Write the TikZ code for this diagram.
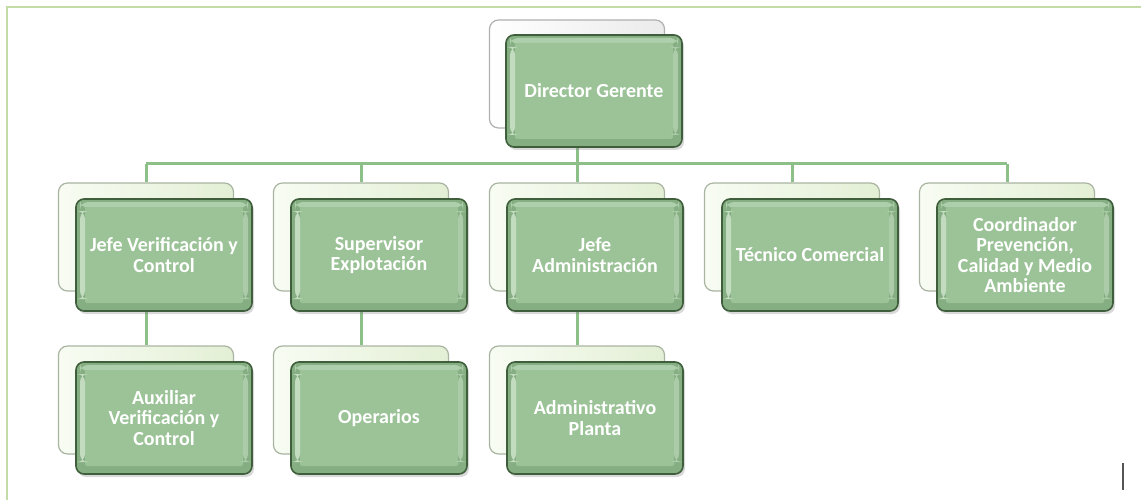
\documentclass[tikz,border=0pt]{standalone}
\usepackage{fontspec}
\setmainfont{Carlito}
\usetikzlibrary{shadows}
\definecolor{frameC}{HTML}{C3DBA5}
\definecolor{lineC}{HTML}{8DBF88}
\definecolor{backL}{HTML}{F8FCF3}
\definecolor{backR}{HTML}{E3EFD5}
\definecolor{backD}{HTML}{A9B5A2}
\definecolor{dirL}{HTML}{FFFFFF}
\definecolor{dirR}{HTML}{EBEBEB}
\definecolor{dirD}{HTML}{B0B0B0}
\definecolor{frontE}{HTML}{86AE83}
\definecolor{frontF}{HTML}{9BC397}
\definecolor{frontT}{HTML}{AECFAB}
\definecolor{frontH}{HTML}{D3E8D0}
\definecolor{frontD}{HTML}{3E5E3C}
\definecolor{cursorC}{HTML}{555555}
\pgfdeclarelayer{background}
\pgfsetlayers{background,main}
\tikzset{
  backbox/.style={rounded corners=9pt, minimum width=175pt, minimum height=108pt,
    draw=backD, line width=1.2pt, left color=backL, right color=backR, inner sep=0pt},
  dirback/.style={backbox, draw=dirD, left color=dirL, right color=dirR},
  frontbox/.style={rounded corners=8pt, minimum width=176pt, minimum height=112pt,
    draw=frontD, line width=1.6pt, fill=frontE,
    drop shadow={shadow xshift=2pt, shadow yshift=-3pt, opacity=0.3},
    text=white, font=\bfseries\fontsize{20}{20.5}\selectfont, align=center,
    inner sep=3pt,
    path picture={
      \fill[frontT] ([xshift=4pt,yshift=-3pt]path picture bounding box.north west)
        rectangle ([xshift=-4pt,yshift=-9pt]path picture bounding box.north east);
      \fill[frontF, rounded corners=2pt] ([xshift=9pt,yshift=-8pt]path picture bounding box.north west)
        rectangle ([xshift=-9pt,yshift=8pt]path picture bounding box.south east);
      \fill[frontH, opacity=0.8] ([xshift=4pt,yshift=-12pt]path picture bounding box.north west)
        rectangle ([xshift=9pt,yshift=12pt]path picture bounding box.south west);
      \fill[frontH, opacity=0.5] ([xshift=-9pt,yshift=-12pt]path picture bounding box.north east)
        rectangle ([xshift=-4pt,yshift=12pt]path picture bounding box.south east);
    }},
  conn/.style={draw=lineC, line width=3pt},
  frameline/.style={draw=frameC, line width=2.5pt},
}
\begin{document}
\begin{tikzpicture}[x=1pt, y=-1pt]
\useasboundingbox (0,0) rectangle (1141,500);
\draw[frameline] (7,500) -- (7,7) -- (1141,7);

% Director
\node[dirback] (dgB) at (577,74) {};
\node[frontbox] (dgF) at (594,91) {Director Gerente};

% Level 2
\node[backbox] (c1B) at (146,237) {};
\node[frontbox] (c1F) at (164,255) {Jefe Verificación y\\Control};
\node[backbox] (c2B) at (361,237) {};
\node[frontbox] (c2F) at (379,255) {Supervisor\\Explotación};
\node[backbox] (c3B) at (577,237) {};
\node[frontbox] (c3F) at (595,255) {Jefe\\Administración};
\node[backbox] (c4B) at (792,237) {};
\node[frontbox] (c4F) at (810,255) {Técnico Comercial};
\node[backbox] (c5B) at (1007,237) {};
\node[frontbox] (c5F) at (1025,255) {Coordinador\\Prevención,\\Calidad y Medio\\Ambiente};

% Level 3
\node[backbox] (d1B) at (146,400) {};
\node[frontbox] (d1F) at (164,418) {Auxiliar\\Verificación y\\Control};
\node[backbox] (d2B) at (361,400) {};
\node[frontbox] (d2F) at (379,418) {Operarios};
\node[backbox] (d3B) at (577,400) {};
\node[frontbox] (d3F) at (595,418) {Administrativo\\Planta};

\coordinate (bar) at (0,164);

\begin{pgfonlayer}{background}
  \draw[conn] (dgB.center |- dgF.south) -- (dgB.center |- bar);
  \draw[conn] (c1B.north |- bar) -- (c5B.north |- bar);
  \foreach \c in {c1B,c2B,c3B,c4B,c5B}{
    \draw[conn] (\c.north |- bar) -- (\c.north);
  }
  \draw[conn] (c1B.center |- c1F.south) -- (d1B.north);
  \draw[conn] (c2B.center |- c2F.south) -- (d2B.north);
  \draw[conn] (c3B.center |- c3F.south) -- (d3B.north);
\end{pgfonlayer}

\coordinate (curTop) at (1123,463);
\coordinate (curBot) at (1123,490);
\draw[draw=cursorC, line width=2.5pt] (curTop) -- (curBot);
\end{tikzpicture}
\end{document}
